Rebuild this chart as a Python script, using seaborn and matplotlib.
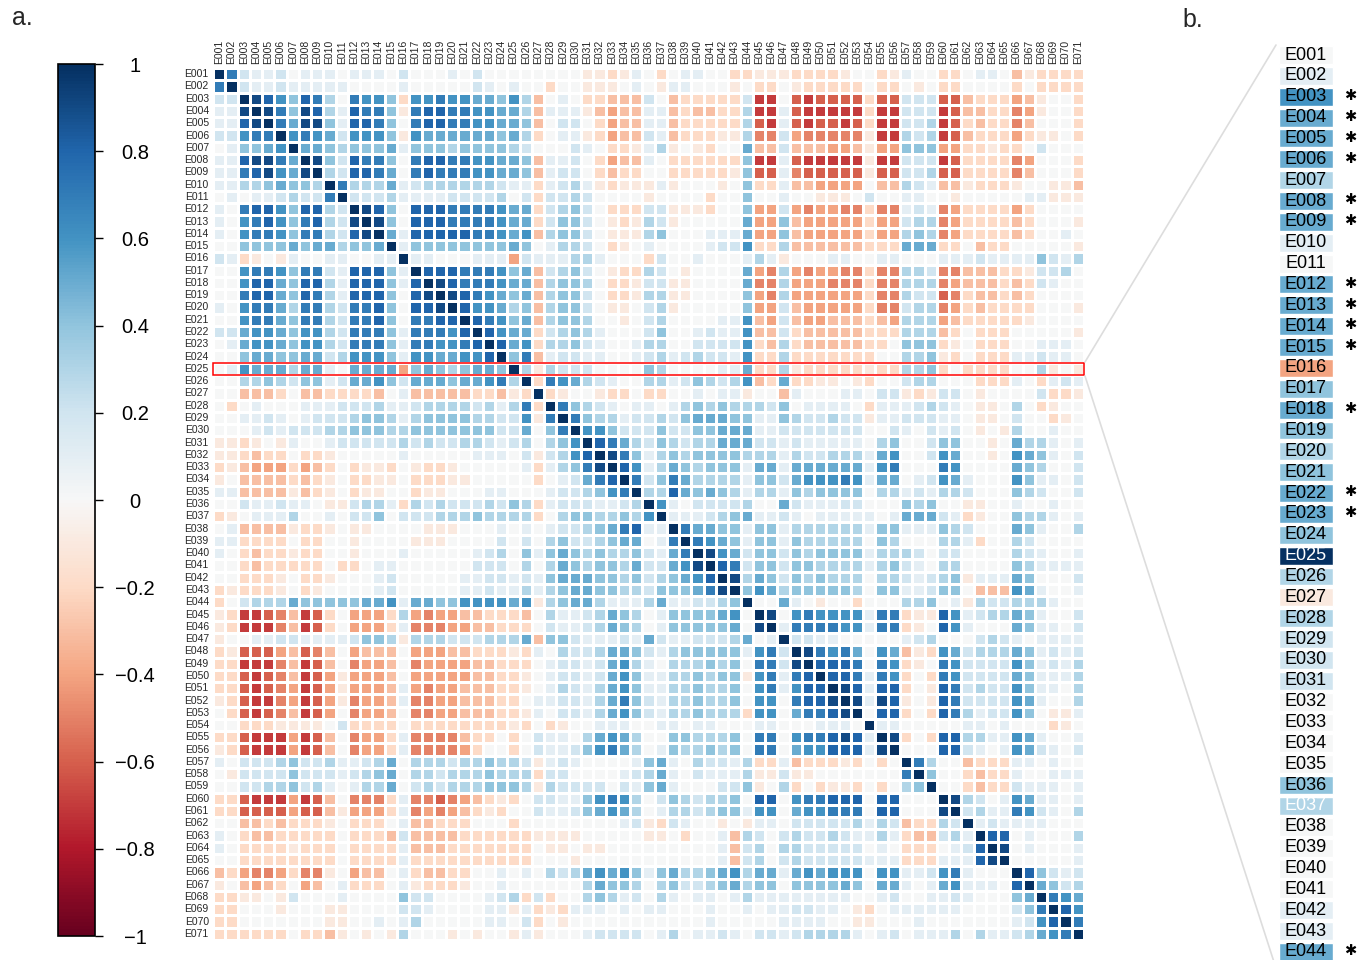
import numpy as np
import pandas as pd
import seaborn as sns
import matplotlib.pyplot as plt
from matplotlib.lines import Line2D
from matplotlib.patches import Rectangle

labels = [f"E{i:03d}" for i in range(1, 72)]

# lower triangle of the correlation matrix, one string per row, one char per cell
# '0'..'9' -> 0.0..0.9, 'X' -> 1.0, 'a'..'i' -> -0.1..-0.9 (spaces only for reading)
lower_rows = [
    "X",
    "7X",
    "22X",
    "119X",
    "1189X",
    "22677X",
    "014456X",
    "1189975X",
    "11789659X",
    "113345443X",
    "0101123227 X",
    "1078864883 2X",
    "1067864783 29X",
    "1067764773 289X",
    "0044445455 3445X",
    "21ba0a1001 10011X",
    "0067764772 188841X",
    "0068854883 1888418X",
    "0078854873 18884089X",
    "1067753773 277840889X",
    "0067754773 2778407788X",
    "2256654663 27774177768X",
    "0156654663 277741776678X",
    "0045544552 3666416655668X",
    "0165553551 05555d4543 4554X",
    "0033432441 2556425554 55673X",
    "00cccb0ccb bbbc01cccc cbbcabX",
    "0b01000111 2223112333 323137bX",
    "0011210122 2344313444 433226a7X",
    "0001212223 3444334444 444225047X",
    "aaba0a1001 2222232322 3321230346X",
    "aabcbb0bba 0000010000 011102a2368X",
    "bacdddbdcb 0baab0abba 000001b13479X",
    "a0ccccbcba 0bbaa0bbba a00000b012578X",
    "11ccccacba 0baa00baa0 00110001223467X",
    "002112110a a2331b3232 223243b12221123X",
    "ba01113001 0224022233 343333b034 433436X",
    "01ccccabba 0aa0000aaa 0001010122 3457811X",
    "11bbbb0bb0 0a0000aaa0 0002020342 23455017X",
    "10bcbbabb0 0a00010000 0123041454 343342157X",
    "00bcbbbbb0 bb01100000 0222030354 3443522569X",
    "00bbba0bba 0001200000 1122121455 54434234568X",
    "babbba0ba0 0001200000 1121131345 544332444579X",
    "b023335444 4455615544 666656a345 5311135112 234X",
    "abggfecgfb 0dddb3dedd ccbbbc0311 2354301444 4560X",
    "abgggecgfb 0dddb1eeed dccbbb0211 2354301444 44509X",
    "a001122111 12443a3332 223335c442 1112152112 223501X",
    "bafffdcfec 0dccc0dddc cbbbab1032 2355421344 4441672X",
    "bbgggecgfc 0eddc0eddd dccbbb0122 1256310333 43407729X",
    "bbfgfecgfd adddc0dddd dccbba0122 1256411334 344a67178X",
    "bbfgfedgfd adddc1dedd cccbba0132 1356411334 3340671688 X",
    "abfggedgfd aeddc1eedd cccbb01122 1357421334 3340660788 9X",
    "0bfgfecgfd 0eddc0eedd cccbba1022 1356421334 333b660577 89X",
    "00bbbaaaa0 2bbbb0bbbb bbbbab0ba0 0111001101 1000110001 110X",
    "bbfgggdgfc 0eddb1eeee cbb0b02110 3565300443 3340770677 8981X",
    "abfgggdgfc 0eddb1eeee db00b02112 4675301433 4340770566 88819X",
    "1022234223 1123503332 334332a121 0000145103 2213bb1cbb bab0b0X",
    "0a22224222 1234503323 334333b220 0001235102 1113aa2aa0 0000007X",
    "0022334231 0133502323 334443a322 2202145100 0224a03b0b aab0b034X",
    "bbfgggdgfc 0eeeb1eefe dcbab02211 4676302432 3340880677 888088000X",
    "bbffffdffc adddb1eded cbab002112 4565301332 3441660566 7770880009X",
    "00ccbcbbba 0bbb01ccbb b000b00000 00012ab210 0a0a110222 223132cbb3 2X",
    "10bccbbbbb 0bbbc2cccc bbbbbbaaaa 00000aa0b0 01c3202322 321131bcc2 31X",
    "10bbbbabbb 0bbbb1cccb bbbbbb0aa0 aa00000000 01c2303322 222010bbb0 128X",
    "00bbbbbbbb 0bbbb1bbbb bbbbbb000a 0000000000 01c2302322 222111bbb1 1189X",
    "cbdeedbeea 0dcc01bccb b001010323 5656414533 4563551565 6660661126 71000X",
    "a0cdcb0dc0 1bbb01abbb a001000000 3544303422 3453440444 4540551015 611108X",
    "bbaa0a2000 1000042200 00123b2b00 3431203101 1013111111 1100120011 2100045X",
    "bb000a000a a000022100 0011a1bab1 1101011000 1001011221 10ab011111 10000247X",
    "bb0000000a a001013000 001102b0a0 0000000000 1000001111 00aa000100 000001268X",
    "bbbbbb0bbc a0a0a3000a 0a00a1a000 1222201301 1210221233 3310120111 3031123567 X",
]

# panel b: correlations of E025 with E001..E044, stars = significant
focus = "E025"
n_shown = 44
starred = ["E003", "E004", "E005", "E006", "E008", "E009", "E012", "E013",
           "E014", "E015", "E018", "E022", "E023", "E044"]
white_text = ["E025", "E037"]


def decode(ch):
    if ch == "X":
        return 1.0
    if ch.isdigit():
        return int(ch) / 10
    return -(ord(ch) - ord("a") + 1) / 10


n = len(labels)
corr = np.zeros((n, n))
bad = []
for i, row in enumerate(lower_rows):
    row = row.replace(" ", "")
    if len(row) != i + 1:
        bad.append((labels[i], len(row)))
    for j, ch in enumerate(row[:i + 1]):
        corr[i, j] = corr[j, i] = decode(ch)
if bad:
    raise ValueError(f"rows with wrong length: {bad}")
df = pd.DataFrame(corr, index=labels, columns=labels)

sns.set_theme(style="white")
plt.rcParams['font.family'] = ['Liberation Sans', 'DejaVu Sans']

W, H = 1367, 960
fig = plt.figure(figsize=(W / 100, H / 100), dpi=100)


def box(x0, y0, x1, y1):
    return [x0 / W, 1 - y1 / H, (x1 - x0) / W, (y1 - y0) / H]


ax = fig.add_axes(box(213, 68, 1084, 940))
cax = fig.add_axes(box(58, 64, 95, 936))
sns.heatmap(df, ax=ax, cbar_ax=cax, cmap="RdBu", vmin=-1, vmax=1,
            linewidths=1, linecolor="white",
            xticklabels=labels, yticklabels=labels)
ax.xaxis.tick_top()
ax.tick_params(axis='both', length=0, labelsize=7.5, pad=3)
plt.setp(ax.get_xticklabels(), rotation=90)
plt.setp(ax.get_yticklabels(), rotation=0)
ax.set_xlabel("")
ax.set_ylabel("")

# red box around the E025 row
k = labels.index(focus)
ax.add_patch(Rectangle((0, k), n, 1, fill=False, edgecolor="red", lw=1.1, clip_on=False))

# colorbar
cb = ax.collections[0].colorbar
ticks = np.round(np.arange(-1, 1.01, 0.2), 1)
cb.set_ticks(ticks)
cb.set_ticklabels([f"{t:g}".replace("-", "\u2212") if t != 0 else "0" for t in ticks])
cax.tick_params(labelsize=14.5, length=6, width=1, pad=23, direction="out", colors="black")
for t in cax.get_yticklabels():
    t.set_ha("center")
cb.outline.set_edgecolor("black")
cb.outline.set_linewidth(1.2)

# panel b
shown = labels[:n_shown]
vals = df.loc[focus, shown].values
cmap = plt.get_cmap("RdBu")
colors = [cmap((v + 1) / 2) for v in vals]
step = 20.86
axb = fig.add_axes(box(1270, 55 - step / 2, 1367, 55 - step / 2 + step * n_shown))
axb.barh(np.arange(n_shown), 54, left=9, height=0.86, color=colors)
for i, lab in enumerate(shown):
    axb.text(36, i, lab, ha="center", va="center", fontsize=13,
             color="white" if lab in white_text else "black")
    if lab in starred:
        axb.text(80, i - 0.06, "\u2731", ha="center", va="center", fontsize=10.5,
                 color="black", family="DejaVu Sans")
axb.set_xlim(0, 97)
axb.set_ylim(n_shown - 0.5, -0.5)
axb.axis("off")

# zoom lines from the red box to panel b
fig.add_artist(Line2D([1085 / W, 1276 / W], [1 - 362 / H, 1 - 45 / H],
                      transform=fig.transFigure, color="#dddddd", lw=1.2))
fig.add_artist(Line2D([1085 / W, 1274 / W], [1 - 376 / H, 1 - 962 / H],
                      transform=fig.transFigure, color="#dddddd", lw=1.2))

fig.text(12 / W, 1 - 18 / H, "a.", fontsize=18, va="center", ha="left")
fig.text(1182 / W, 1 - 20 / H, "b.", fontsize=18, va="center", ha="left")

fig.savefig("out.png", dpi=100)
